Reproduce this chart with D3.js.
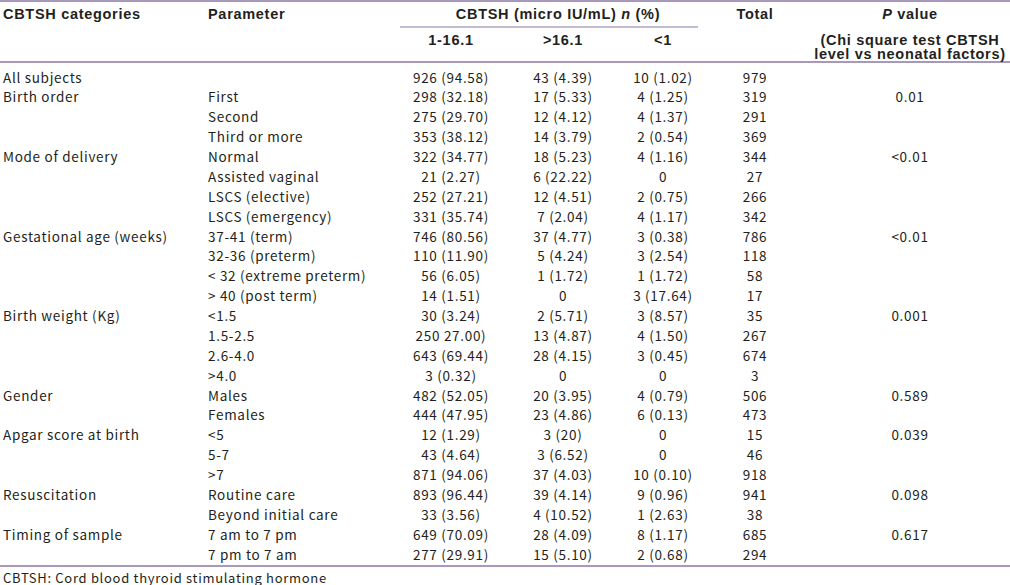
<!DOCTYPE html>
<html>
<head>
<meta charset="utf-8">
<script src="https://cdn.jsdelivr.net/npm/d3@7/dist/d3.min.js"></script>
<style>
  html, body { margin: 0; padding: 0; background: #fff; }
  svg { display: block; }
</style>
</head>
<body>
<svg id="chart" width="1010" height="585"></svg>
<script>
// ---- Data ----
const categories = ["All subjects", "Birth order", "", "", "Mode of delivery", "", "", "",
  "Gestational age (weeks)", "", "", "", "Birth weight (Kg)", "", "", "",
  "Gender", "", "Apgar score at birth", "", "", "Resuscitation", "", "Timing of sample", ""];
const parameters = ["", "First", "Second", "Third or more", "Normal", "Assisted vaginal",
  "LSCS (elective)", "LSCS (emergency)", "37-41 (term)", "32-36 (preterm)",
  "< 32 (extreme preterm)", "> 40 (post term)", "<1.5", "1.5-2.5", "2.6-4.0", ">4.0",
  "Males", "Females", "<5", "5-7", ">7", "Routine care", "Beyond initial care",
  "7 am to 7 pm", "7 pm to 7 am"];
const range1to16 = ["926 (94.58)", "298 (32.18)", "275 (29.70)", "353 (38.12)", "322 (34.77)",
  "21 (2.27)", "252 (27.21)", "331 (35.74)", "746 (80.56)", "110 (11.90)", "56 (6.05)",
  "14 (1.51)", "30 (3.24)", "250 27.00)", "643 (69.44)", "3 (0.32)", "482 (52.05)",
  "444 (47.95)", "12 (1.29)", "43 (4.64)", "871 (94.06)", "893 (96.44)", "33 (3.56)",
  "649 (70.09)", "277 (29.91)"];
const rangeAbove16 = ["43 (4.39)", "17 (5.33)", "12 (4.12)", "14 (3.79)", "18 (5.23)",
  "6 (22.22)", "12 (4.51)", "7 (2.04)", "37 (4.77)", "5 (4.24)", "1 (1.72)", "0",
  "2 (5.71)", "13 (4.87)", "28 (4.15)", "0", "20 (3.95)", "23 (4.86)", "3 (20)",
  "3 (6.52)", "37 (4.03)", "39 (4.14)", "4 (10.52)", "28 (4.09)", "15 (5.10)"];
const rangeBelow1 = ["10 (1.02)", "4 (1.25)", "4 (1.37)", "2 (0.54)", "4 (1.16)", "0",
  "2 (0.75)", "4 (1.17)", "3 (0.38)", "3 (2.54)", "1 (1.72)", "3 (17.64)", "3 (8.57)",
  "4 (1.50)", "3 (0.45)", "0", "4 (0.79)", "6 (0.13)", "0", "0", "10 (0.10)", "9 (0.96)",
  "1 (2.63)", "8 (1.17)", "2 (0.68)"];
const totals = [979, 319, 291, 369, 344, 27, 266, 342, 786, 118, 58, 17, 35, 267, 674, 3,
  506, 473, 15, 46, 918, 941, 38, 685, 294];
const pValues = ["", "0.01", "", "", "<0.01", "", "", "", "<0.01", "", "", "", "0.001", "", "", "",
  "0.589", "", "0.039", "", "", "0.098", "", "0.617", ""];
const subHeaders = ["1-16.1", ">16.1", "<1"];
const footnote = "CBTSH: Cord blood thyroid stimulating hormone";

// ---- Layout ----
const W = 1010;
const ruleColor = "#8a76a6";
const textColor = "#231f20";
const bodyFont = "'Noto Sans CJK JP', 'Noto Sans', sans-serif";
const headFont = "'Liberation Sans', Arial, sans-serif";

const svg = d3.select("#chart");
svg.append("rect").attr("width", W).attr("height", 585).attr("fill", "#fff");

const nRows = parameters.length;
const y = d3.scaleLinear().domain([0, nRows - 1]).range([76.5, 553.5]);
const colX = { cat: 3, par: 208, c1: 451, c2: 563, c3: 663, tot: 755, p: 910 };

// rules
const rules = [
  { x1: 0, x2: W, y: 1, w: 1.6 },
  { x1: 400, x2: 698, y: 27, w: 1.2 },
  { x1: 0, x2: W, y: 62, w: 1.4 },
  { x1: 0, x2: W, y: 566, w: 1.4 }
];
svg.selectAll("line.rule").data(rules).join("line")
  .attr("class", "rule")
  .attr("x1", d => d.x1).attr("x2", d => d.x2)
  .attr("y1", d => d.y).attr("y2", d => d.y)
  .attr("stroke", ruleColor).attr("stroke-width", d => d.w);

// header
const head = svg.append("g")
  .attr("font-family", headFont).attr("font-weight", "bold")
  .attr("font-size", 14.5).attr("fill", textColor)
  .attr("letter-spacing", 0.7);

function headText(x, yy, anchor, parts) {
  const t = head.append("text").attr("x", x).attr("y", yy)
    .attr("text-anchor", anchor).attr("dominant-baseline", "central");
  parts.forEach(p => {
    const s = t.append("tspan").text(p.t);
    if (p.i) s.attr("font-style", "italic");
  });
  return t;
}
headText(colX.cat, 14, "start", [{ t: "CBTSH categories" }]);
headText(colX.par, 14, "start", [{ t: "Parameter" }]);
headText(558, 14, "middle", [{ t: "CBTSH (micro IU/mL) " }, { t: "n", i: true }, { t: " (%)" }]);
subHeaders.forEach((s, i) => headText([colX.c1, colX.c2, colX.c3][i], 40, "middle", [{ t: s }]));
headText(colX.tot, 14, "middle", [{ t: "Total" }]);
headText(colX.p, 14, "middle", [{ t: "P", i: true }, { t: " value" }]);
headText(colX.p, 40, "middle", [{ t: "(Chi square test CBTSH" }]);
headText(colX.p, 54, "middle", [{ t: "level vs neonatal factors)" }]);

// body
const body = svg.append("g")
  .attr("font-family", bodyFont).attr("font-size", 13.5)
  .attr("fill", textColor).attr("letter-spacing", 0.7);

const cols = [
  { key: "cat", vals: categories, anchor: "start" },
  { key: "par", vals: parameters, anchor: "start" },
  { key: "c1", vals: range1to16, anchor: "middle" },
  { key: "c2", vals: rangeAbove16, anchor: "middle" },
  { key: "c3", vals: rangeBelow1, anchor: "middle" },
  { key: "tot", vals: totals, anchor: "middle" },
  { key: "p", vals: pValues, anchor: "middle" }
];
cols.forEach(c => {
  body.append("g").selectAll("text")
    .data(c.vals.map((v, i) => ({ v, i })).filter(d => d.v !== ""))
    .join("text")
    .attr("x", colX[c.key])
    .attr("y", d => y(d.i))
    .attr("text-anchor", c.anchor)
    .attr("dominant-baseline", "central")
    .text(d => d.v);
});

// footnote
body.append("text").attr("x", 3).attr("y", 577)
  .attr("dominant-baseline", "central").attr("font-size", 13)
  .text(footnote);
</script>
</body>
</html>
